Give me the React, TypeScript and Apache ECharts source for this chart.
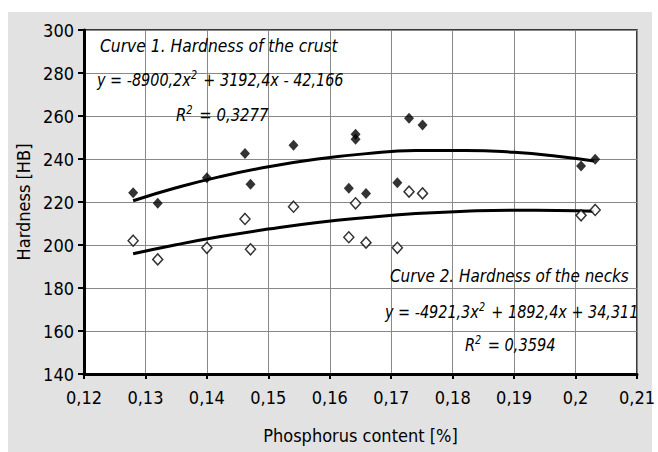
import React, { useEffect, useRef } from "react";
import * as echarts from "echarts";

// Phosphorus content [%] and hardness [HB]
const crustP = [0.128, 0.132, 0.14, 0.1462, 0.1471, 0.1541, 0.1631, 0.1642, 0.1642, 0.1659, 0.171, 0.1729, 0.1751, 0.2009, 0.2032];
const crustH = [224.3, 219.4, 231.3, 242.6, 228.2, 246.4, 226.4, 251.5, 249.2, 224.0, 229.0, 258.9, 255.8, 236.7, 239.9];

const necksP = [0.128, 0.132, 0.14, 0.1462, 0.1471, 0.1541, 0.1631, 0.1642, 0.1659, 0.171, 0.1729, 0.1751, 0.2009, 0.2032];
const necksH = [202.0, 193.3, 198.7, 212.1, 198.0, 217.8, 203.6, 219.4, 201.1, 198.7, 224.8, 224.0, 213.8, 216.3];

// Trend curves
const trendP = [0.128, 0.135, 0.142, 0.15, 0.158, 0.166, 0.174, 0.182, 0.19, 0.197, 0.203];
const crustTrend = [220.6, 226.6, 231.7, 236.4, 240.0, 242.5, 243.9, 244.0, 243.1, 241.3, 239.1];
const necksTrend = [195.9, 200.1, 203.8, 207.4, 210.5, 212.8, 214.6, 215.7, 216.2, 216.1, 215.7];

const xTitle = "Phosphorus content [%]";
const yTitle = "Hardness [HB]";
const curve1Title = "Curve 1. Hardness of the crust";
const curve1Eq = ["y = -8900,2x", "2", " + 3192,4x - 42,166"];
const curve1R2 = ["R", "2", " = 0,3277"];
const curve2Title = "Curve 2. Hardness of the necks";
const curve2Eq = ["y = -4921,3x", "2", " + 1892,4x + 34,311"];
const curve2R2 = ["R", "2", " = 0,3594"];

const FONT = '"DejaVu Sans Condensed", "Liberation Sans", sans-serif';

const zip = (xs: number[], ys: number[]) => xs.map((x, i) => [x, ys[i]]);

export default function App() {
  const ref = useRef<HTMLDivElement>(null);
  useEffect(() => {
    document.body.style.margin = "0";
    if (!ref.current) return;
    const chart = echarts.init(ref.current, null, { renderer: "svg" });
    const rich = {
      n: { fontFamily: FONT, fontSize: 18, fontStyle: "italic", fill: "#000", color: "#000", lineHeight: 22 },
      s: { fontFamily: FONT, fontSize: 12, fontStyle: "italic", fill: "#000", color: "#000", lineHeight: 22, verticalAlign: "top", padding: [0, 2, 10, 0] },
    };
    const supText = (parts: string[]) => `{n|${parts[0]}}{s|${parts[1]}}{n|${parts[2]}}`;
    const txt = (x: number, y: number, text: string, sx: number) => ({
      type: "text",
      x,
      y,
      scaleX: sx,
      z: 100,
      style: {
        text,
        rich,
        fill: "#000",
        fontFamily: FONT,
        fontSize: 18,
        fontStyle: "italic",
        align: "left",
        verticalAlign: "middle",
      },
    });
    const axisLabel = { color: "#000", fontFamily: FONT, fontSize: 18 };
    chart.setOption({
      animation: false,
      graphic: [
        { type: "rect", z: -10, shape: { x: 8, y: 12, width: 644, height: 440 }, style: { fill: "#e2e2e2" }, silent: true },
        txt(100, 46, `{n|${curve1Title}}`, 0.96),
        txt(97, 80, supText(curve1Eq), 0.89),
        txt(176, 115, supText(curve1R2), 0.92),
        txt(390, 276, `{n|${curve2Title}}`, 0.94),
        txt(385, 312, supText(curve2Eq), 0.89),
        txt(465, 345, supText(curve2R2), 0.9),
      ],
      grid: {
        left: 84,
        top: 30,
        right: 15,
        bottom: 78,
        show: true,
        backgroundColor: "#fff",
        borderColor: "#000",
        borderWidth: 1.5,
      },
      xAxis: {
        type: "value",
        min: 0.12,
        max: 0.21,
        interval: 0.01,
        name: xTitle,
        nameLocation: "middle",
        nameGap: 52,
        nameTextStyle: { color: "#000", fontFamily: FONT, fontSize: 18 },
        axisLine: { lineStyle: { color: "#000", width: 3 } },
        axisTick: { show: true, length: 5, lineStyle: { color: "#000", width: 2 } },
        axisLabel: {
          ...axisLabel,
          margin: 14,
          formatter: (v: number) => String(+v.toFixed(2)).replace(".", ","),
        },
        splitLine: { show: true, lineStyle: { color: "#888", width: 1 } },
      },
      yAxis: {
        type: "value",
        min: 140,
        max: 300,
        interval: 20,
        name: yTitle,
        nameLocation: "middle",
        nameGap: 50,
        nameTextStyle: { color: "#000", fontFamily: FONT, fontSize: 18 },
        axisLine: { lineStyle: { color: "#000", width: 3 } },
        axisTick: { show: true, length: 6, lineStyle: { color: "#000", width: 2 } },
        axisLabel: { ...axisLabel, margin: 10 },
        splitLine: { show: true, lineStyle: { color: "#888", width: 1 } },
      },
      series: [
        {
          type: "line",
          data: zip(trendP, crustTrend),
          showSymbol: false,
          smooth: true,
          lineStyle: { color: "#000", width: 3 },
          z: 3,
        },
        {
          type: "line",
          data: zip(trendP, necksTrend),
          showSymbol: false,
          smooth: true,
          lineStyle: { color: "#000", width: 3 },
          z: 3,
        },
        {
          type: "scatter",
          data: zip(crustP, crustH),
          symbol: "diamond",
          symbolSize: [10, 11],
          itemStyle: { color: "#000" },
          z: 4,
        },
        {
          type: "scatter",
          data: zip(necksP, necksH),
          symbol: "diamond",
          symbolSize: [10, 11],
          itemStyle: { color: "#fff", borderColor: "#000", borderWidth: 1.5 },
          z: 4,
        },
      ],
    });
    return () => chart.dispose();
  }, []);
  return <div ref={ref} style={{ width: 658, height: 452 }} />;
}
